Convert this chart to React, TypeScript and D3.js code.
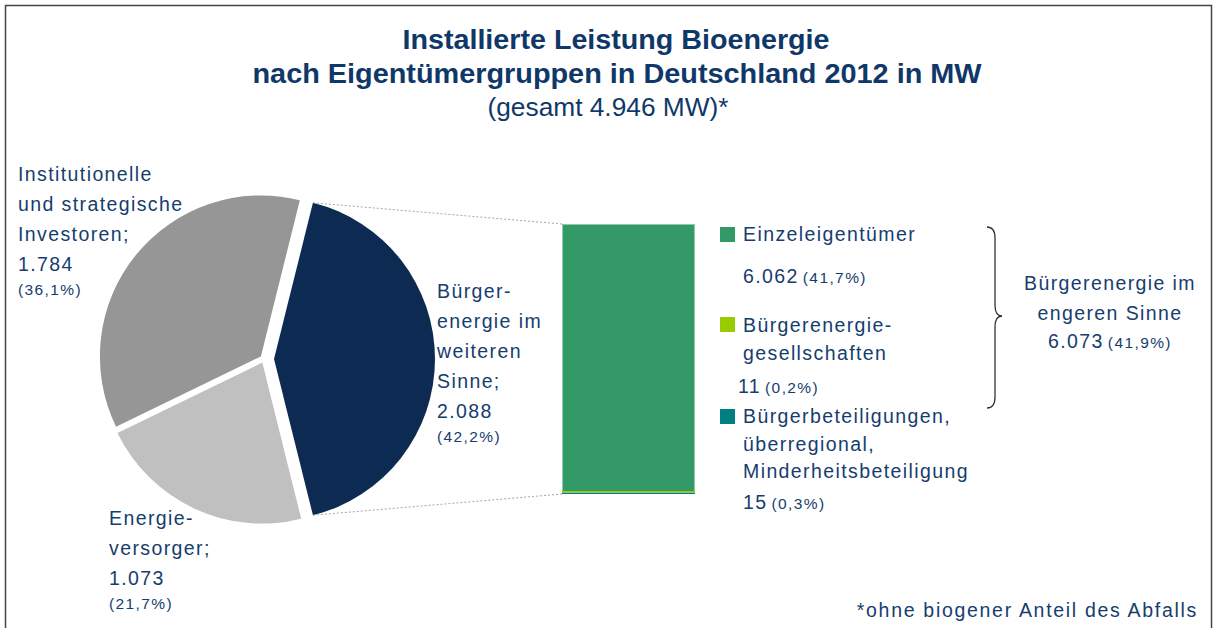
import React from "react";
import * as d3 from "d3";

// ---------- data ----------
const pieCategories = [
  "Bürgerenergie im weiteren Sinne",
  "Energieversorger",
  "Institutionelle und strategische Investoren",
];
const pieValues = [2088, 1073, 1784];
const pieLabelLines = [
  ["Bürger-", "energie im", "weiteren", "Sinne;", "2.088"],
  ["Energie-", "versorger;", "1.073"],
  ["Institutionelle", "und strategische", "Investoren;", "1.784"],
];
const piePercents = ["(42,2%)", "(21,7%)", "(36,1%)"];

const barCategories = [
  "Einzeleigentümer",
  "Bürgerenergiegesellschaften",
  "Bürgerbeteiligungen, überregional, Minderheitsbeteiligung",
];
const barValues = [6062, 11, 15];
const barLegendLines = [
  ["Einzeleigentümer"],
  ["Bürgerenergie-", "gesellschaften"],
  ["Bürgerbeteiligungen,", "überregional,", "Minderheitsbeteiligung"],
];
const barValueLabels = ["6.062", "11", "15"];
const barPercents = ["(41,7%)", "(0,2%)", "(0,3%)"];

const groupLabelLines = ["Bürgerenergie im", "engeren Sinne"];
const groupValue = "6.073";
const groupPercent = "(41,9%)";

const titleLines = [
  "Installierte Leistung Bioenergie",
  "nach Eigentümergruppen in Deutschland 2012 in MW",
];
const subtitle = "(gesamt 4.946 MW)*";
const footnote = "*ohne biogener Anteil des Abfalls";

// ---------- style ----------
const W = 1216;
const H = 628;
const FONT = "'Liberation Sans', Arial, sans-serif";
const TITLE_COLOR = "#0f3868";
const TEXT_COLOR = "#163d6e";
const pieColors = ["#0d2a52", "#c0c0c0", "#969696"];
const barColors = ["#339966", "#99cc00", "#008080"];

export default function App() {
  // pie
  const cx = 264;
  const cy = 359;
  const r = 161;
  const explode = [10, 4, 4];
  const total = d3.sum(pieValues);
  const start = Math.PI / 2 - (Math.PI * pieValues[0]) / total;
  const pie = d3
    .pie<number>()
    .sort(null)
    .value((d) => d)
    .startAngle(start)
    .endAngle(start + 2 * Math.PI);
  const arcs = pie(pieValues);
  const arcGen = d3.arc<d3.PieArcDatum<number>>().innerRadius(0).outerRadius(r);
  const offsets = arcs.map((a, i) => {
    const mid = (a.startAngle + a.endAngle) / 2;
    return [Math.sin(mid) * explode[i], -Math.cos(mid) * explode[i]];
  });

  // bar
  const barTotal = d3.sum(barValues);
  const x = d3.scaleBand<string>().domain(["bar"]).range([562, 695]).padding(0);
  const y = d3.scaleLinear().domain([0, barTotal]).range([494, 224]);
  const stackOrder = [2, 1, 0]; // bottom to top
  const minH = 1.5;
  let accPx = y(0);
  let accVal = 0;
  const segs = stackOrder.map((i, k) => {
    const bottom = accPx;
    accVal += barValues[i];
    const top = k === stackOrder.length - 1 ? y(accVal) : Math.min(y(accVal), bottom - minH);
    accPx = top;
    return { i, top, bottom };
  });

  // connectors
  const a0 = arcs[0];
  const o0 = offsets[0];
  const pTop = [cx + o0[0] + r * Math.sin(a0.startAngle), cy + o0[1] - r * Math.cos(a0.startAngle)];
  const pBot = [cx + o0[0] + r * Math.sin(a0.endAngle), cy + o0[1] - r * Math.cos(a0.endAngle)];
  const bx = x("bar") as number;

  const labelStyle: React.CSSProperties = { letterSpacing: "1.4px" };

  const pieLabelPos = [
    { x: 437, y: 298 },
    { x: 109, y: 525 },
    { x: 18, y: 181 },
  ];

  const legendSquares = [227, 317, 409];
  const legendText = [241, 332, 423];
  const valueRows = [
    { x: 743, y: 283 },
    { x: 738, y: 393 },
    { x: 743, y: 509 },
  ];

  return (
    <svg
      width={W}
      height={H}
      style={{ position: "fixed", left: 0, top: 0, background: "#fff" }}
      fontFamily={FONT}
    >
      <rect x={0} y={0} width={W} height={H} fill="#fff" />
      <path d={`M5.5,${H + 2} V5.5 H1211.5 V${H + 2}`} fill="none" stroke="#444" strokeWidth={1.5} />

      {/* title */}
      <text x={616} y={49} textAnchor="middle" fontSize={28} fontWeight="bold" fill={TITLE_COLOR} textLength={427} lengthAdjust="spacingAndGlyphs">
        {titleLines[0]}
      </text>
      <text x={617} y={83} textAnchor="middle" fontSize={28} fontWeight="bold" fill={TITLE_COLOR} textLength={729} lengthAdjust="spacingAndGlyphs">
        {titleLines[1]}
      </text>
      <text x={608} y={116} textAnchor="middle" fontSize={26} fill={TITLE_COLOR} textLength={241} lengthAdjust="spacingAndGlyphs">
        {subtitle}
      </text>

      {/* pie */}
      <g transform={`translate(${cx},${cy})`}>
        {arcs.map((a, i) => (
          <path
            key={pieCategories[i]}
            d={arcGen(a) as string}
            transform={`translate(${offsets[i][0]},${offsets[i][1]})`}
            fill={pieColors[i]}
          />
        ))}
      </g>

      {/* connectors */}
      <line x1={pTop[0]} y1={pTop[1]} x2={bx} y2={y(barTotal)} stroke="#a6a6a6" strokeWidth={1} strokeDasharray="2,2" />
      <line x1={pBot[0]} y1={pBot[1]} x2={bx} y2={y(0)} stroke="#a6a6a6" strokeWidth={1} strokeDasharray="2,2" />

      {/* bar */}
      {segs.map((s) => (
        <rect
          key={barCategories[s.i]}
          x={bx}
          y={s.top}
          width={x.bandwidth()}
          height={s.bottom - s.top}
          fill={barColors[s.i]}
        />
      ))}
      <path
        d={`M${bx + 0.5},${segs[2].bottom} V${y(barTotal) + 0.5} H${bx + x.bandwidth() - 0.5} V${segs[2].bottom}`}
        fill="none"
        stroke="#8fcca7"
        strokeWidth={1}
      />

      {/* pie labels */}
      {pieLabelLines.map((lines, i) => (
        <text key={pieCategories[i]} fill={TEXT_COLOR} style={labelStyle}>
          {lines.map((ln, j) => (
            <tspan key={j} x={pieLabelPos[i].x} y={pieLabelPos[i].y + j * 30} fontSize={19.5}>
              {ln}
            </tspan>
          ))}
          <tspan x={pieLabelPos[i].x} y={pieLabelPos[i].y + (lines.length - 1) * 30 + 24} fontSize={15.5}>
            {piePercents[i]}
          </tspan>
        </text>
      ))}

      {/* legend */}
      {barLegendLines.map((lines, i) => (
        <g key={barCategories[i]}>
          <rect x={720} y={legendSquares[i]} width={15} height={15} fill={barColors[i]} />
          <text fill={TEXT_COLOR} style={labelStyle} fontSize={19.5}>
            {lines.map((ln, j) => (
              <tspan key={j} x={743} y={legendText[i] + j * 27.5}>
                {ln}
              </tspan>
            ))}
          </text>
          <text x={valueRows[i].x} y={valueRows[i].y} fill={TEXT_COLOR} style={labelStyle}>
            <tspan fontSize={19.5}>{barValueLabels[i]}</tspan>
            <tspan fontSize={15.5} dx={4}>{barPercents[i]}</tspan>
          </text>
        </g>
      ))}

      {/* brace */}
      <path
        d="M987,227 Q995,227 995,238 L995,305 Q995,316 1002,316 Q995,316 995,327 L995,397 Q995,408 987,408"
        fill="none"
        stroke="#333"
        strokeWidth={1.3}
      />
      <text fill={TEXT_COLOR} style={labelStyle} textAnchor="middle" fontSize={19.5}>
        {groupLabelLines.map((ln, j) => (
          <tspan key={j} x={1110} y={290 + j * 30}>
            {ln}
          </tspan>
        ))}
      </text>
      <text x={1110} y={348} fill={TEXT_COLOR} style={labelStyle} textAnchor="middle">
        <tspan fontSize={19.5}>{groupValue}</tspan>
        <tspan fontSize={15.5} dx={4}>{groupPercent}</tspan>
      </text>

      {/* footnote */}
      <text x={1198} y={617} textAnchor="end" fill={TEXT_COLOR} fontSize={19.5} style={{ letterSpacing: "1.7px" }}>
        {footnote}
      </text>
    </svg>
  );
}
